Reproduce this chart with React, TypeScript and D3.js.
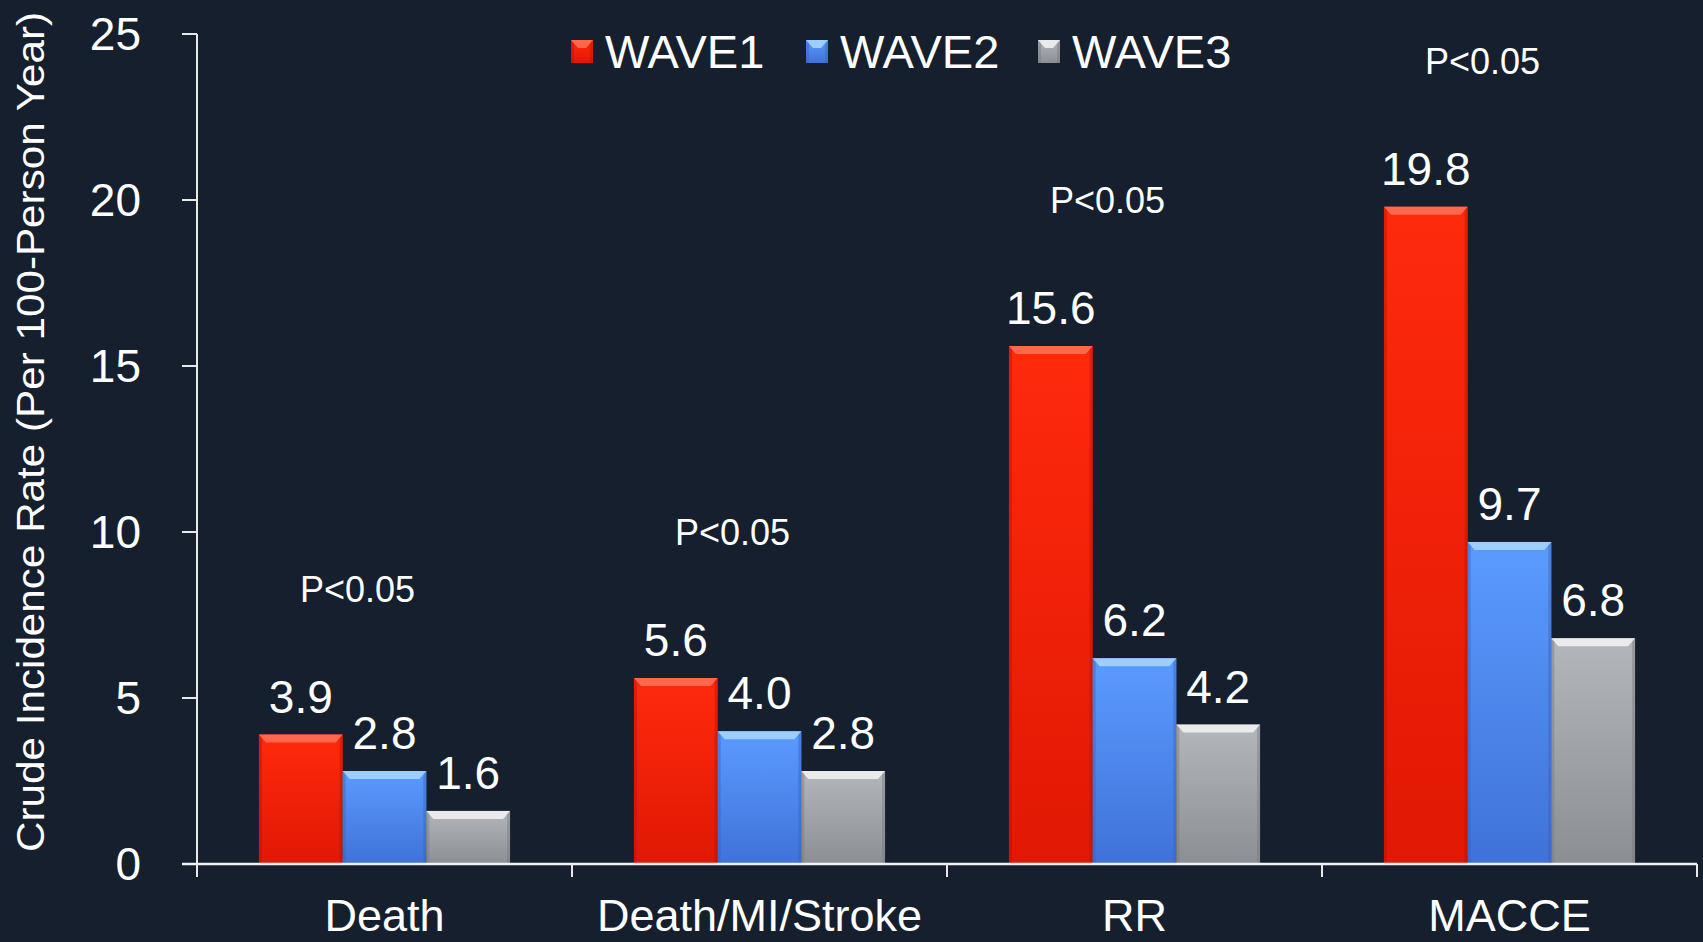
import React from 'react';
import * as d3 from 'd3';

const categories = ['Death', 'Death/MI/Stroke', 'RR', 'MACCE'];
const seriesNames = ['WAVE1', 'WAVE2', 'WAVE3'];
const wave1 = [3.9, 5.6, 15.6, 19.8];
const wave2 = [2.8, 4.0, 6.2, 9.7];
const wave3 = [1.6, 2.8, 4.2, 6.8];
const pLabels = ['P<0.05', 'P<0.05', 'P<0.05', 'P<0.05'];
const yTicks = [0, 5, 10, 15, 20, 25];

const W = 1703;
const H = 942;
const FONT = 'Arial, "Liberation Sans", sans-serif';
const BG = '#161f2e';

// gradient top / bottom and the bevel highlight for each series
const palette = [
  { top: '#ff2a0c', bottom: '#e01804', hi: '#ff7358', edge: '#b81200' },
  { top: '#5b9bff', bottom: '#3f72d9', hi: '#a8d8ff', edge: '#3563bd' },
  { top: '#b3b6bb', bottom: '#8b8e93', hi: '#f4f4f4', edge: '#77797d' },
];

const Bar = ({ x, y, w, h, i }: { x: number; y: number; w: number; h: number; i: number }) => {
  const b = Math.min(8, h / 2);
  return (
    <g>
      <rect x={x} y={y} width={w} height={h} fill={`url(#grad${i})`} />
      <rect x={x} y={y} width={3} height={h} fill={palette[i].edge} opacity={0.45} />
      <rect x={x + w - 3} y={y} width={3} height={h} fill={palette[i].edge} opacity={0.45} />
      <polygon
        points={`${x},${y} ${x + w},${y} ${x + w - 7},${y + b} ${x + 7},${y + b}`}
        fill={palette[i].hi}
        opacity={0.85}
      />
    </g>
  );
};

export default function App() {
  const left = 197;
  const right = 1697;
  const top = 34;
  const bottom = 864;

  const x0 = d3.scaleBand<string>().domain(categories).range([left, right]);
  const x1 = d3
    .scaleBand<string>()
    .domain(seriesNames)
    .range([0, x0.bandwidth()])
    .paddingInner(0)
    .paddingOuter(0.74);
  const y = d3.scaleLinear().domain([0, 25]).range([bottom, top]);

  const series = [wave1, wave2, wave3];
  const legendX = [571, 806, 1038];

  return (
    <svg
      width={W}
      height={H}
      style={{ position: 'absolute', left: 0, top: 0, display: 'block', background: BG }}
    >
      <defs>
        {palette.map((p, i) => (
          <linearGradient key={i} id={`grad${i}`} x1="0" y1="0" x2="0" y2="1">
            <stop offset="0" stopColor={p.top} />
            <stop offset="1" stopColor={p.bottom} />
          </linearGradient>
        ))}
      </defs>
      <rect x={0} y={0} width={W} height={H} fill={BG} />

      {/* y axis */}
      <line x1={left} x2={left} y1={top} y2={bottom + 13} stroke="#e8e8e8" strokeWidth={2} />
      {yTicks.map((t) => (
        <g key={t}>
          <line x1={left - 15} x2={left} y1={y(t)} y2={y(t)} stroke="#e8e8e8" strokeWidth={2} />
          <text
            x={141}
            y={y(t) + 16}
            textAnchor="end"
            fontFamily={FONT}
            fontSize={46}
            fill="#fff"
          >
            {t}
          </text>
        </g>
      ))}
      <text
        transform={`translate(44, 432) rotate(-90)`}
        textAnchor="middle"
        fontFamily={FONT}
        fontSize={38}
        fill="#fff"
        textLength={840}
        lengthAdjust="spacingAndGlyphs"
      >
        Crude Incidence Rate (Per 100-Person Year)
      </text>

      {/* bars */}
      {categories.map((c, ci) => (
        <g key={c}>
          {series.map((s, si) => {
            const bx = (x0(c) ?? 0) + (x1(seriesNames[si]) ?? 0);
            const bw = x1.bandwidth();
            return (
              <g key={si}>
                <Bar x={bx} y={y(s[ci])} w={bw} h={bottom - y(s[ci])} i={si} />
                <text
                  x={bx + bw / 2}
                  y={y(s[ci]) - 22}
                  textAnchor="middle"
                  fontFamily={FONT}
                  fontSize={46}
                  fill="#fff"
                >
                  {s[ci].toFixed(1)}
                </text>
              </g>
            );
          })}
          <text
            x={(x0(c) ?? 0) + x0.bandwidth() / 2 - 27}
            y={y(Math.max(wave1[ci], wave2[ci], wave3[ci]) + 4)}
            textAnchor="middle"
            fontFamily={FONT}
            fontSize={36}
            fill="#fff"
          >
            {pLabels[ci]}
          </text>
          <text
            x={(x0(c) ?? 0) + x0.bandwidth() / 2}
            y={931}
            textAnchor="middle"
            fontFamily={FONT}
            fontSize={45}
            fill="#fff"
          >
            {c}
          </text>
        </g>
      ))}

      {/* x axis */}
      <line x1={left - 15} x2={right} y1={bottom} y2={bottom} stroke="#f2f2f2" strokeWidth={2.5} />
      {[...categories.map((c) => x0(c) ?? 0), right].map((tx, i) => (
        <line key={i} x1={tx} x2={tx} y1={bottom} y2={bottom + 13} stroke="#e8e8e8" strokeWidth={2} />
      ))}

      {/* legend */}
      {seriesNames.map((n, i) => (
        <g key={n}>
          <Bar x={legendX[i]} y={40} w={22} h={23} i={i} />
          <text x={legendX[i] + 34} y={68} fontFamily={FONT} fontSize={47} fill="#fff">
            {n}
          </text>
        </g>
      ))}
    </svg>
  );
}
